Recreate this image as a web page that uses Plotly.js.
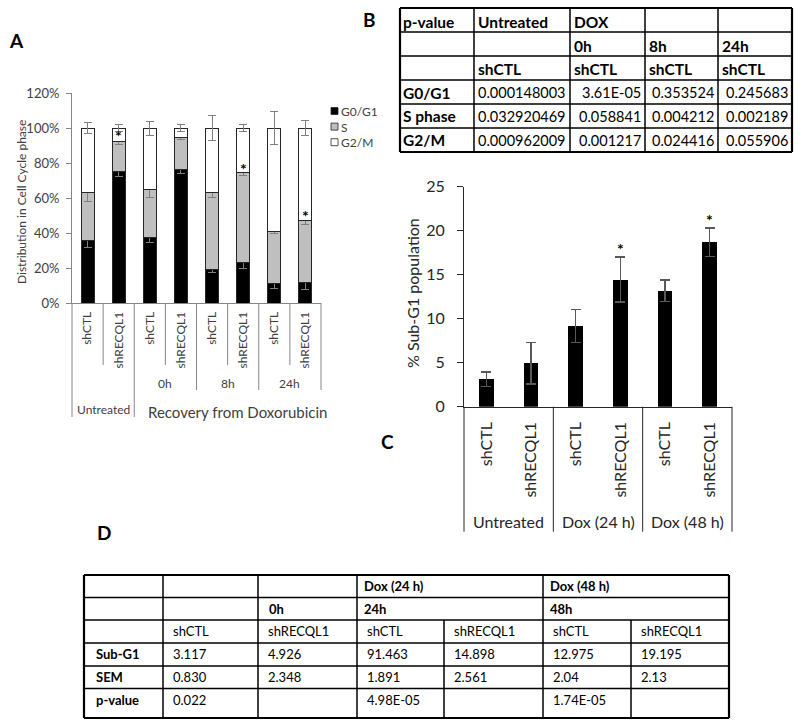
<!DOCTYPE html>
<html><head><meta charset="utf-8">
<script src="https://cdn.plot.ly/plotly-3.0.1.min.js"></script>
<style>html,body{margin:0;padding:0;background:#fff}</style>
</head><body><div id="chart" style="width:800px;height:725px"></div>
<script>
// ---------- Panel A data ----------
const catsA = ['shCTL','shRECQL1','shCTL','shRECQL1','shCTL','shRECQL1','shCTL','shRECQL1'];
const g0g1 = [36.0, 75.2, 37.3, 76.2, 19.4, 23.4, 11.0, 11.6];
const sPhase = [27.4, 17.2, 27.3, 18.5, 43.5, 50.9, 30.0, 35.4];
const g2m = [36.6, 7.6, 35.4, 5.3, 37.1, 25.7, 59.0, 53.0];
const g0g1Err = [4.0, 3.0, 2.5, 2.0, 2.0, 3.5, 2.5, 4.0];
const sErr = [5.5, 2.0, 4.5, 1.2, 2.7, 1.5, 1.5, 2.0];
const g2mErr = [3.0, 2.0, 4.0, 2.0, 7.0, 2.0, 9.5, 4.5];
const starA = [0, 1, 0, 0, 0, 1, 0, 1];
const seriesA = ['G0/G1', 'S', 'G2/M'];
const timeA = ['0h', '8h', '24h'];

// ---------- Panel C data ----------
const catsC = ['shCTL','shRECQL1','shCTL','shRECQL1','shCTL','shRECQL1'];
const subG1 = [3.12, 4.93, 9.15, 14.45, 13.2, 18.7];
const subG1Err = [0.83, 2.35, 1.89, 2.56, 1.2, 1.6];
const starC = [0, 0, 0, 1, 0, 1];
const groupsC = ['Untreated', 'Dox (24 h)', 'Dox (48 h)'];

// ---------- Panel B table data ----------
const bHead1 = ['p-value', 'Untreated', 'DOX', '', ''];
const bHead2 = ['', '', '0h', '8h', '24h'];
const bHead3 = ['', 'shCTL', 'shCTL', 'shCTL', 'shCTL'];
const bRowLabels = ['G0/G1', 'S phase', 'G2/M'];
const pG0G1 = ['0.000148003', '3.61E-05', '0.353524', '0.245683'];
const pS = ['0.032920469', '0.058841', '0.004212', '0.002189'];
const pG2M = ['0.000962009', '0.001217', '0.024416', '0.055906'];

// ---------- Panel D table data ----------
const dGroups = ['Dox (24 h)', 'Dox (48 h)'];
const dTimes = ['0h', '24h', '48h'];
const dCond = ['shCTL','shRECQL1','shCTL','shRECQL1','shCTL','shRECQL1'];
const dSubG1 = ['3.117','4.926','91.463','14.898','12.975','19.195'];
const dSEM = ['0.830','2.348','1.891','2.561','2.04','2.13'];
const dP = ['0.022','','4.98E-05','','1.74E-05',''];
const dRowLabels = ['Sub-G1', 'SEM', 'p-value'];

// ---------- helpers ----------
const W = 800, H = 725;
const X = p => p / W, Y = p => 1 - p / H;
const FONT = 'Lato, "Open Sans", sans-serif';
const shapes = [], annotations = [];
function line(x0, y0, x1, y1, color, width) {
  shapes.push({type:'line', xref:'paper', yref:'paper', x0:X(x0), y0:Y(y0), x1:X(x1), y1:Y(y1),
    line:{color:color, width:width}});
}
function text(t, x, y, opts) {
  opts = opts || {};
  annotations.push({text:t, xref:opts.xref || 'paper', yref:opts.yref || 'paper',
    x: opts.xref ? x : X(x), y: opts.yref ? y : Y(y),
    xanchor:opts.xanchor || 'center', yanchor:opts.yanchor || 'middle', showarrow:false,
    textangle:opts.angle || 0, align:opts.align || 'center', borderpad:opts.pad === undefined ? 1 : opts.pad,
    font:{family:FONT, size:opts.size || 13, color:opts.color || '#000', weight:opts.bold ? 700 : 400}});
}

// ---------- Panel A traces ----------
const xA = catsA.map((_, i) => i);
const errStyle = {type:'data', visible:true, color:'#7f7f7f', thickness:1, width:4};
const lineA = {color:'#262626', width:1};
const traces = [
  {type:'bar', name:seriesA[0], x:xA, y:g0g1, xaxis:'x', yaxis:'y', width:0.42, showlegend:false,
   marker:{color:'#000000', line:lineA}, error_y:Object.assign({array:g0g1Err}, errStyle)},
  {type:'bar', name:seriesA[1], x:xA, y:sPhase, xaxis:'x', yaxis:'y', width:0.42, showlegend:false,
   marker:{color:'#bfbfbf', line:lineA}, error_y:Object.assign({array:sErr}, errStyle)},
  {type:'bar', name:seriesA[2], x:xA, y:g2m, xaxis:'x', yaxis:'y', width:0.42, showlegend:false,
   marker:{color:'#ffffff', line:lineA}, error_y:Object.assign({array:g2mErr}, errStyle)}
];

// ---------- Panel C trace ----------
const xC = catsC.map((_, i) => i);
traces.push({type:'bar', name:'Sub-G1', x:xC, y:subG1, xaxis:'x2', yaxis:'y2', width:0.33, showlegend:false,
  marker:{color:'#000000'},
  error_y:{type:'data', array:subG1Err, visible:true, color:'#595959', thickness:1.2, width:5}});

// stars
starA.forEach((s, i) => {
  if (s) text('<b>*</b>', i, g0g1[i] + sPhase[i] + sErr[i] + 1.2, {xref:'x', yref:'y', size:16, yanchor:'middle'});
});
starC.forEach((s, i) => {
  if (s) text('<b>*</b>', i, subG1[i] + subG1Err[i] + 1.0, {xref:'x2', yref:'y2', size:16, yanchor:'middle'});
});

// ---------- Panel A decorations ----------
const aGrey = '#868686';
const xpxA = v => 72 + (v + 0.5) * (321 - 72) / 8;
// separators below category axis
const sepA = [[-0.5, 417], [0.5, 365], [1.5, 417], [2.5, 365], [3.5, 390], [4.5, 365], [5.5, 390], [6.5, 365], [7.5, 390]];
sepA.forEach(([v, yb]) => line(xpxA(v), 303, xpxA(v), yb, aGrey, 1));
text('Untreated', xpxA(0.5), 409, {size:12, color:'#404040'});
timeA.forEach((t, k) => text(t, xpxA(2.5 + 2 * k), 383, {size:12, color:'#404040'}));
text('Recovery from Doxorubicin', 237, 412, {size:15, color:'#404040'});
text('Distribution in Cell Cycle phase', 22, 202, {size:12, color:'#404040', angle:-90});
// legend (custom, compact like the original)
const legFill = ['#000000', '#bfbfbf', '#ffffff'];
const legStep = 15.6;
seriesA.forEach((s, k) => {
  const yc = 111 + k * legStep;
  shapes.push({type:'rect', xref:'paper', yref:'paper', x0:X(331), x1:X(338), y0:Y(yc + 3.5), y1:Y(yc - 3.5),
    fillcolor:legFill[k], line:{color:'#262626', width:0.8}});
});
text(seriesA.join('<br>'), 340, 111 - 7.8, {size:12, color:'#404040', xanchor:'left', yanchor:'top', align:'left', pad:0});

// ---------- Panel C decorations ----------
const xpxC = v => 464 + (v + 0.5) * (732 - 464) / 6;
[-0.5, 1.5, 3.5, 5.5].forEach(v => line(xpxC(v), 406.7, xpxC(v), 531.7, '#262626', 1));
groupsC.forEach((g, k) => text(g, xpxC(0.5 + 2 * k), 521, {size:16, color:'#262626'}));
text('% Sub-G1 population', 412, 293, {size:16, color:'#262626', angle:-90});

// ---------- Panel letters ----------
text('A', 16, 40, {size:19, bold:true});
text('B', 369, 19, {size:19, bold:true});
text('C', 387, 441, {size:19, bold:true});
text('D', 104, 532, {size:19, bold:true});

// ---------- Table B ----------
const bCols = [400, 474, 570, 645, 718, 792];
const bRows = [8, 32, 56, 80, 104, 128, 152];
bRows.forEach((y, k) => line(bCols[0], y, bCols[5], y, '#000', (k === 0 || k === 6) ? 2.2 : 1.5));
bCols.forEach((x, k) => line(x, bRows[0], x, bRows[6], '#000', (k === 0 || k === 5) ? 2.2 : 1.5));
const bMatrix = [bHead1, bHead2, bHead3,
  [bRowLabels[0]].concat(pG0G1), [bRowLabels[1]].concat(pS), [bRowLabels[2]].concat(pG2M)];
bMatrix.forEach((row, r) => {
  row.forEach((t, c) => {
    if (!t) return;
    const yc = (bRows[r] + bRows[r + 1]) / 2 + (r < 3 ? 1.5 : 0.5);
    const isVal = r >= 3 && c >= 1;
    if (isVal) text(t, bCols[c + 1] - 2, yc, {size:14.5, xanchor:'right'});
    else text(t, bCols[c] + 1.5, yc, {size:15.5, xanchor:'left', bold:true});
  });
});

// ---------- Table D ----------
const dCols = [84, 163, 258, 357, 444, 543, 631, 729];
const dRows = [575, 597.5, 620, 643, 666, 688.5, 718];
dRows.forEach((y, k) => line(dCols[0], y, dCols[7], y, '#000', (k === 0 || k === 6) ? 2.2 : 1.5));
dCols.forEach((x, k) => {
  const partial = (k === 4 || k === 6);
  line(x, partial ? dRows[2] : dRows[0], x, dRows[6], '#000', (k === 0 || k === 7) ? 2.2 : 1.5);
});
const dy = r => dRows[r] + 11;
text(dGroups[0], dCols[3] + 5, dy(0), {size:13, xanchor:'left', bold:true});
text(dGroups[1], dCols[5] + 5, dy(0), {size:13, xanchor:'left', bold:true});
text(dTimes[0], dCols[2] + 9, dy(1), {size:13, xanchor:'left', bold:true});
text(dTimes[1], dCols[3] + 5, dy(1), {size:13, xanchor:'left', bold:true});
text(dTimes[2], dCols[5] + 5, dy(1), {size:13, xanchor:'left', bold:true});
dCond.forEach((t, c) => text(t, dCols[c + 1] + 8, dy(2), {size:13, xanchor:'left'}));
[dSubG1, dSEM, dP].forEach((arr, k) => {
  text(dRowLabels[k], dCols[0] + 10, dy(3 + k), {size:13, xanchor:'left', bold:true});
  arr.forEach((t, c) => { if (t) text(t, dCols[c + 1] + 8, dy(3 + k), {size:13, xanchor:'left'}); });
});

// ---------- Layout ----------
const layout = {
  width:W, height:H, margin:{l:0, r:0, t:0, b:0}, paper_bgcolor:'#fff', plot_bgcolor:'rgba(0,0,0,0)',
  barmode:'stack', showlegend:false, font:{family:FONT},
  xaxis:{domain:[X(72), X(321)], range:[-0.5, 7.5], anchor:'y', tickvals:xA, ticktext:catsA,
    tickangle:-90, ticks:'', showline:true, linecolor:aGrey, linewidth:1, showgrid:false, zeroline:false,
    tickfont:{family:FONT, size:12, color:'#404040'}, ticklabelstandoff:3, fixedrange:true},
  yaxis:{domain:[Y(303), Y(93)], range:[0, 120], anchor:'x', dtick:20, ticksuffix:'%',
    ticks:'outside', ticklen:5, tickcolor:aGrey, showline:true, linecolor:aGrey, linewidth:1,
    showgrid:false, zeroline:false, tickfont:{family:FONT, size:13, color:'#404040'}, ticklabelstandoff:4, fixedrange:true},
  xaxis2:{domain:[X(464), X(732)], range:[-0.5, 5.5], anchor:'y2', tickvals:xC, ticktext:catsC,
    tickangle:-90, ticks:'', showline:true, linecolor:'#262626', linewidth:1, showgrid:false, zeroline:false,
    tickfont:{family:FONT, size:16, color:'#262626'}, ticklabelstandoff:8, fixedrange:true},
  yaxis2:{domain:[Y(406.7), Y(186.7)], range:[0, 25], anchor:'x2', dtick:5,
    ticks:'outside', ticklen:6, tickcolor:'#262626', showline:true, linecolor:'#262626', linewidth:1,
    showgrid:false, zeroline:false, tickfont:{family:FONT, size:16, color:'#262626'}, ticklabelstandoff:9, fixedrange:true},
  shapes:shapes, annotations:annotations
};
Plotly.newPlot('chart', traces, layout, {displayModeBar:false, staticPlot:true});
</script>
</body></html>
